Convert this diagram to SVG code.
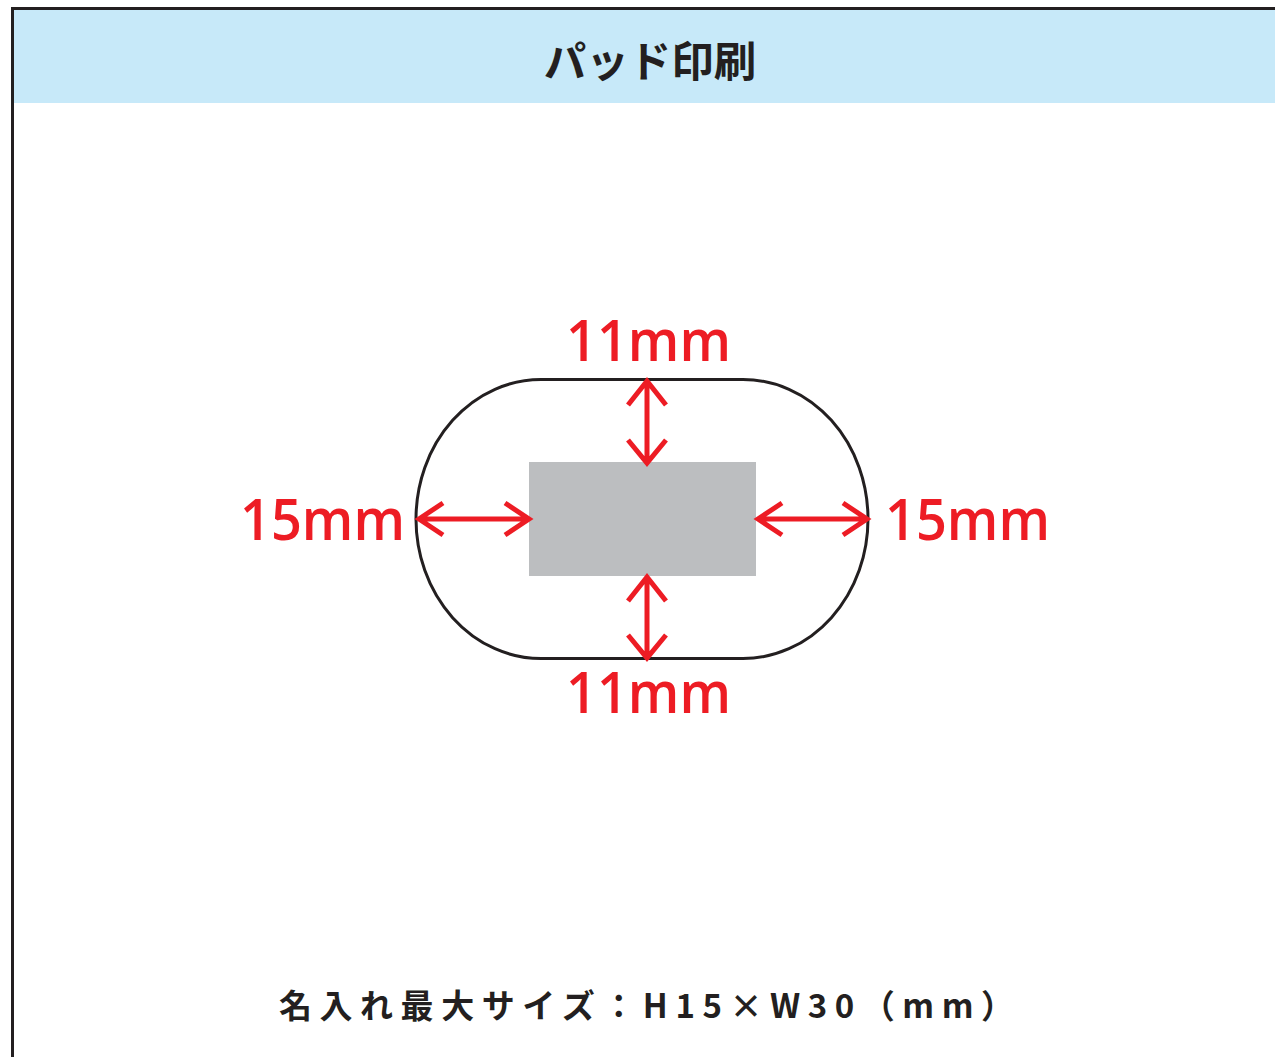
<svg xmlns="http://www.w3.org/2000/svg" width="1275" height="1057" viewBox="0 0 1275 1057">
<style>
.frame{fill:none;stroke:#231F20;stroke-width:3}
.dim{fill:none;stroke:#ED1C24;stroke-width:5}
.lbl{font-family:"Open Sans","Noto Sans",sans-serif;font-weight:600;font-size:58px;fill:#ED1C24}
.jp{font-family:"Noto Sans CJK JP",sans-serif;font-weight:700;fill:#231F20}
</style>
<rect x="0" y="0" width="1275" height="1057" fill="#FFFFFF"/>
<g id="header">
<rect x="13" y="9" width="1262" height="94" fill="#C7E9F9"/>
<text class="jp" x="650" y="77" font-size="42.5" text-anchor="middle">パッド印刷</text>
</g>
<path class="frame" d="M12.5 1057 V8.5 H1275"/>
<g id="pad">
<rect x="416" y="379.5" width="452" height="279" rx="125" ry="139.5" fill="none" stroke="#231F20" stroke-width="3"/>
</g>
<g id="print-area">
<rect x="529" y="462" width="227" height="114" fill="#BCBEC0"/>
</g>
<g id="connectors">
<path class="dim" d="M647 381 V463 M628 405 L647 381 L666 405 M628 440 L647 463 L666 440"/>
<path class="dim" d="M647 577 V658 M628 601 L647 577 L666 601 M628 635 L647 658 L666 635"/>
<path class="dim" d="M419 519 H529 M443 503 L419 519 L443 535 M505 503 L529 519 L505 535"/>
<path class="dim" d="M758 519 H867 M782 503 L758 519 L782 535 M843 503 L867 519 L843 535"/>
</g>
<g id="labels">
<text class="lbl" x="566" y="361" textLength="165" lengthAdjust="spacingAndGlyphs">11mm</text>
<text class="lbl" x="566" y="713" textLength="165" lengthAdjust="spacingAndGlyphs">11mm</text>
<text class="lbl" x="240" y="540" textLength="165" lengthAdjust="spacingAndGlyphs">15mm</text>
<text class="lbl" x="885" y="540" textLength="165" lengthAdjust="spacingAndGlyphs">15mm</text>
</g>
<g id="footer">
<text class="jp" x="279" y="1018" font-size="33" textLength="735" lengthAdjust="spacing">名入れ最大サイズ：H15×W30（mm）</text>
</g>
</svg>
